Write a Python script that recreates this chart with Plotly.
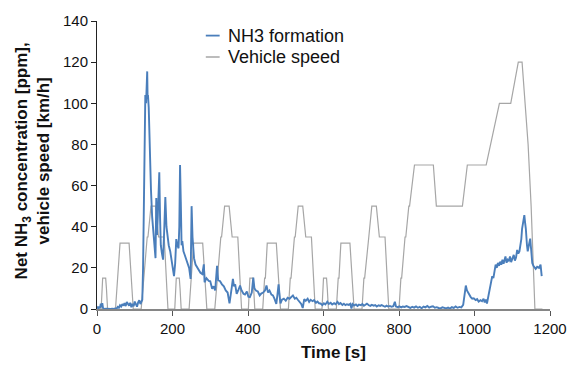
import plotly.graph_objects as go

# NEDC vehicle speed profile (time [s], speed [km/h])
speed_t = [
    0, 11, 15, 23, 25, 28, 49, 54, 56, 61, 85, 93, 96, 117, 122, 124, 133, 135, 143, 155, 163, 178, 185, 188, 195,
    206, 210, 218, 220, 223, 244, 249, 251, 256, 280, 288, 291, 312, 317, 319, 328, 330, 338, 350, 358, 373, 380, 383, 390,
    401, 405, 413, 415, 418, 439, 444, 446, 451, 475, 483, 486, 507, 512, 514, 523, 525, 533, 545, 553, 568, 575, 578, 585,
    596, 600, 608, 610, 613, 634, 639, 641, 646, 670, 678, 681, 702, 707, 709, 718, 720, 728, 740, 748, 763, 770, 773, 780,
    800, 805, 807, 816, 818, 826, 828, 841, 891, 899, 968, 981, 1031, 1066, 1096, 1116, 1126, 1142, 1150, 1160, 1180,
]
speed_v = [
    0, 0, 15, 15, 10, 0, 0, 15, 15, 32, 32, 10, 0, 0, 15, 15, 35, 35, 50, 50, 35, 35, 10, 0, 0,
    0, 15, 15, 10, 0, 0, 15, 15, 32, 32, 10, 0, 0, 15, 15, 35, 35, 50, 50, 35, 35, 10, 0, 0,
    0, 15, 15, 10, 0, 0, 15, 15, 32, 32, 10, 0, 0, 15, 15, 35, 35, 50, 50, 35, 35, 10, 0, 0,
    0, 15, 15, 10, 0, 0, 15, 15, 32, 32, 10, 0, 0, 15, 15, 35, 35, 50, 50, 35, 35, 10, 0, 0,
    0, 15, 15, 35, 35, 50, 50, 70, 70, 50, 50, 70, 70, 100, 100, 120, 120, 80, 50, 0, 0,
]

# Net NH3 concentration (time [s], ppm)
nh3_t = [
    0, 2, 4, 6, 8, 10, 12, 14, 16, 18, 20, 24, 28, 32, 36, 40, 44, 48, 52, 55, 58, 61, 64, 67, 70, 73, 76, 79, 82, 85,
    88, 91, 94, 97, 100, 103, 106, 109, 112, 115, 118,
    120, 122, 124, 126, 128, 130, 131, 133, 134, 135, 137, 140, 143, 146, 150, 153,
    155, 157, 159, 161, 163, 165, 167, 169, 172, 175, 178, 181, 184, 187, 190, 194, 198, 201, 204, 207, 210, 213, 216,
    218, 220, 222, 224, 226, 229, 232, 235, 238, 241, 244,
    248, 250.6, 253, 257, 261, 266, 270, 274, 279, 283, 285, 290, 296, 300, 305, 309, 313, 318, 321, 326, 331, 336, 341,
    346, 351, 354, 357, 360, 363, 366, 370, 374, 379, 383, 388, 392, 397, 401, 405, 410, 414, 417, 421, 426, 431, 435,
    440, 445, 449, 453, 457, 462, 466, 470, 475, 478, 481, 484, 486, 490, 495, 500, 505, 510, 514, 519, 524, 528, 532,
    536, 541, 545, 549, 553, 558, 562, 566, 571, 575, 580, 584, 588, 592, 597, 601, 605, 610, 614, 619, 623, 628, 632,
    637, 641, 645, 650, 654, 658, 662, 667, 671, 674, 677, 681, 686, 690, 694, 699, 703, 707, 711, 715, 720, 724, 728,
    733, 737, 741, 746, 750, 754, 758, 763, 767, 771, 776, 780, 785, 789, 792, 797, 801, 806, 810, 815, 820, 825, 830,
    835, 840, 845, 850, 855, 860, 865, 870, 875, 880, 885, 890, 895, 900, 905, 910, 915, 920, 925, 930, 935, 940, 945,
    950, 955, 960, 965, 970, 973, 977, 980, 982, 986, 990, 994, 998, 1003, 1007, 1011, 1016, 1020, 1024, 1027, 1030,
    1033, 1036, 1039, 1043, 1047, 1050, 1053, 1056, 1059, 1062, 1065, 1068, 1071, 1074, 1077, 1080, 1082, 1085, 1088,
    1091, 1094, 1097, 1100, 1104, 1107, 1110, 1113, 1116, 1119, 1121, 1124, 1126, 1129, 1132, 1134, 1136, 1139, 1141,
    1143, 1145, 1147.5, 1150, 1153, 1156, 1158, 1162, 1166, 1171, 1175, 1178,
]
nh3_v = [
    0.3, 0.8, 0.2, 1.2, 0.5, 2.6, 1.0, 2.8, 0.4, 0.2, 0.0, 0.1, 0.0, 0.2, 0.0, 0.1, 0.0, 0.3, 0.2, 1.0, 0.6, 1.8, 1.2,
    2.4, 1.6, 2.9, 1.4, 3.4, 2.2, 1.6, 3.0, 0.9, 2.5, 1.3, 3.6, 2.0, 1.1, 3.2, 4.3, 2.4, 3.8,
    4.5, 20, 55, 85, 104, 100, 108, 115.5, 103, 104, 98, 75, 58, 45, 34, 27,
    24.7, 54, 36, 45, 58, 66.5, 45, 31, 27, 24, 38, 54.4, 40, 34, 31, 28, 24, 19, 16, 22, 34, 31, 29.5,
    40, 70, 52, 31, 33, 28, 26.5, 25, 23, 21, 20,
    14.6, 50, 35, 24.7, 21.6, 20, 19, 17.6, 17, 21.7, 13, 15, 13.7, 13.5, 9.8, 11, 9, 21, 14, 13.5, 12, 11, 9,
    8, 2.7, 8, 10.5, 14.6, 11, 12, 7.4, 9, 11.4, 9, 7.4, 7, 8.5, 6, 5.8, 8, 15.3, 10, 9, 8.5, 6.6, 7.5,
    8, 9, 11.4, 8, 9, 7, 6.6, 5, 2.5, 7, 12, 6, 2.7, 4.5, 5, 4, 5.5, 5, 5.8, 6.6, 5, 5.5, 4.5,
    3.5, 2.5, 0.5, 4.8, 4, 5, 3.5, 4.5, 3.8, 4.3, 3, 3.6, 2.8, 2.7, 1.9, 2.8, 2.2, 3.5, 2.4, 3, 2.2, 2.8, 2.3,
    3.5, 2.4, 2.9, 2.0, 2.6, 1.9, 2.3, 2.0, 2.5, 0.2, 2.4, 1.7, 2.2, 1.5, 2.1, 1.8, 2.4, 1.6, 2.1, 2.6, 1.8, 1.5, 2.0,
    1.6, 1.9, 1.2, 1.8, 1.5, 1.9, 1.4, 1.1, 1.6, 1.2, 1.5, 1.1, 1.4, 3.5, 1.2, 0.9, 1.3, 0.8, 1.2, 1.0, 1.4, 0.9, 0.5,
    1.1, 0.7, 1.3, 0.6, 1.0, 0.4, 1.2, 0.8, 1.5, 0.7, 1.1, 1.3, 0.6, 0.9, 0.5, 0.3, 0.8, 0.4, 0.3, 0.7, 0.2, 0.9, 0.5,
    1.2, 0.6, 1.0, 0.8, 2.0, 7, 11.4, 9, 8.2, 6.6, 5.8, 5, 5.2, 4.3, 4.8, 3.6, 4.3, 3.8, 5.0, 3.2, 4.6,
    2.7, 6, 9, 12.2, 16, 15, 18, 21.6, 20, 22.4, 21, 23, 21.5, 24, 22, 23.5, 25.5, 22.5, 24,
    23.5, 25.5, 22.8, 24.5, 26.3, 23.5, 25, 28.7, 27, 28, 30.3, 34, 39, 42, 45.6, 42, 39, 31, 28,
    30, 33, 34.2, 29, 22.4, 21, 20.3, 19.5, 20.5, 20, 21.6, 16,
]

FONT = "Liberation Sans, Arial, sans-serif"

fig = go.Figure()
fig.add_trace(go.Scatter(x=speed_t, y=speed_v, mode="lines", name="Vehicle speed",
                         line=dict(color="#a6a6a6", width=1.2), showlegend=False))
fig.add_trace(go.Scatter(x=nh3_t, y=nh3_v, mode="lines", name="NH3 formation",
                         line=dict(color="#4a7ebb", width=1.9), showlegend=False))

# legend drawn as short line samples with labels
legend_items = [("NH3 formation", "#4a7ebb", 1.8, 28), ("Vehicle speed", "#a6a6a6", 1.5, 50)]
for label, color, w, ypx in legend_items:
    yp = (309 - ypx) / 296
    fig.add_shape(type="line", xref="paper", yref="paper",
                  x0=(207 - 97) / 458, x1=(221 - 97) / 458, y0=yp, y1=yp,
                  line=dict(color=color, width=w))
    fig.add_annotation(text=label, xref="paper", yref="paper", x=(227 - 97) / 458, y=yp,
                       xanchor="left", yanchor="middle", showarrow=False,
                       font=dict(family=FONT, size=18, color="#111"))

fig.add_annotation(text="<b>Net NH<sub>3</sub> concentration [ppm],<br>vehicle speed [km/h]</b>",
                   xref="paper", yref="paper", x=(32 - 97) / 458, y=0.515, textangle=-90,
                   xanchor="center", yanchor="middle", showarrow=False,
                   font=dict(family=FONT, size=17, color="#111"))
fig.add_annotation(text="<b>Time [s]</b>", xref="paper", yref="paper",
                   x=(336 - 97) / 458, y=(309 - 354) / 296, xanchor="center", yanchor="middle",
                   showarrow=False, font=dict(family=FONT, size=17, color="#111"))

fig.update_layout(
    width=579, height=368,
    margin=dict(l=97, r=24, t=13, b=59),
    plot_bgcolor="white", paper_bgcolor="white",
    font=dict(family=FONT, size=15, color="#111"),
)
fig.update_xaxes(range=[0, 1200], dtick=200, showgrid=False, zeroline=False,
                 showline=True, linecolor="#868686", linewidth=1.5,
                 ticks="outside", ticklen=5, tickcolor="#555", tickwidth=1,
                 tickfont=dict(family=FONT, size=15, color="#111"))
fig.update_yaxes(range=[0, 140], dtick=20, showgrid=False, zeroline=False,
                 showline=True, linecolor="#222", linewidth=1,
                 ticks="outside", ticklen=5, tickcolor="#222", tickwidth=1,
                 tickfont=dict(family=FONT, size=15, color="#111"))

fig.write_html("out.html")
